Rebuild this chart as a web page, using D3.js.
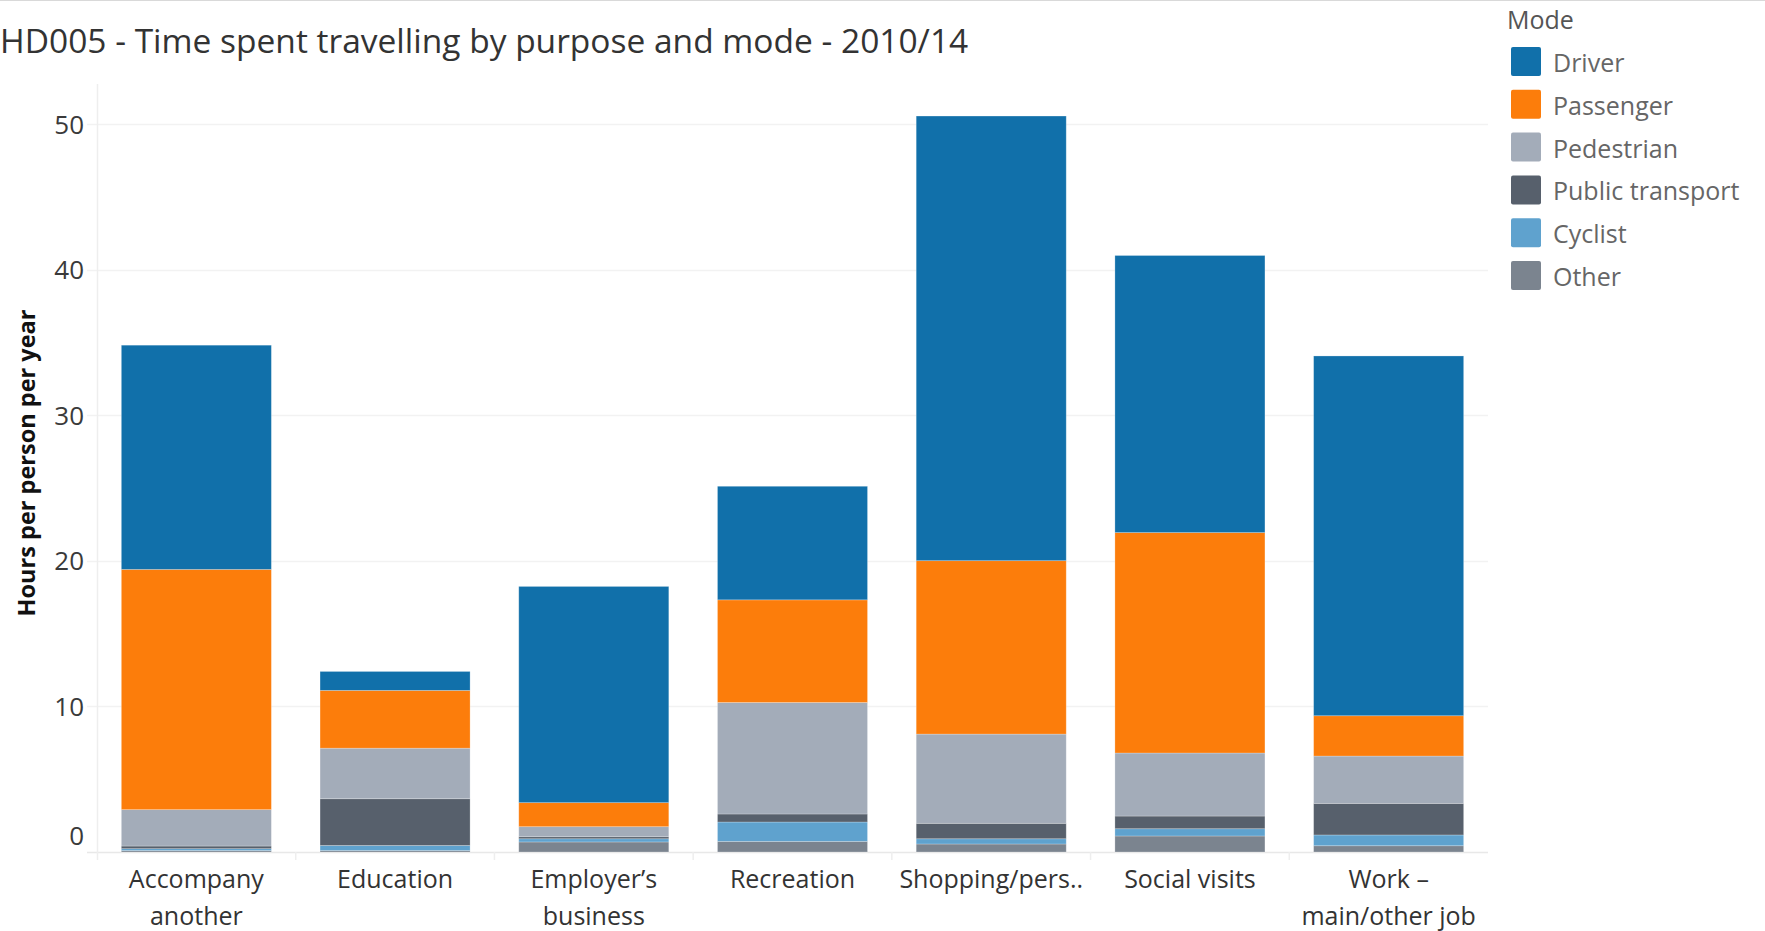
<!DOCTYPE html>
<html>
<head>
<meta charset="utf-8">
<script src="https://cdn.jsdelivr.net/npm/d3@7"></script>
<style>
  body { margin: 0; background: #fff; }
  svg { display: block; font-family: "Open Sans", sans-serif; }
</style>
</head>
<body>
<div id="chart"></div>
<script>
// purposes (x categories), each label split into lines as in the original
var purposes = ["Accompany another", "Education", "Employer's business", "Recreation",
    "Shopping/personal business", "Social visits", "Work - main/other job"];
var purposeLabels = [["Accompany", "another"], ["Education"], ["Employer\u2019s", "business"],
    ["Recreation"], ["Shopping/pers.."], ["Social visits"], ["Work \u2013", "main/other job"]];

var modes = ["Driver", "Passenger", "Pedestrian", "Public transport", "Cyclist", "Other"];
var modeColours = ["#1170aa", "#fc7d0b", "#a3acb9", "#57606c", "#5fa2ce", "#7b848f"];

// hours per person per year, one array per mode
var driver = [15.4, 1.3, 14.85, 7.8, 30.54, 19.03, 24.71];
var passenger = [16.5, 3.97, 1.65, 7.05, 11.91, 15.14, 2.77];
var pedestrian = [2.5, 3.47, 0.69, 7.66, 6.13, 4.33, 3.25];
var publicTransport = [0.18, 3.21, 0.14, 0.55, 1.06, 0.87, 2.17];
var cyclist = [0.13, 0.35, 0.22, 1.33, 0.36, 0.5, 0.74];
var other = [0.1, 0.1, 0.69, 0.73, 0.55, 1.1, 0.43];

var yTicks = [0, 10, 20, 30, 40, 50];

// build rows for d3.stack
var series = [driver, passenger, pedestrian, publicTransport, cyclist, other];
var rows = purposes.map(function (p, i) {
    var r = { purpose: p };
    modes.forEach(function (m, j) { r[m] = series[j][i]; });
    return r;
});

var width = 1765, height = 931;
var plot = { left: 97, right: 1488, top: 84, bottom: 852 };

var svg = d3.select("#chart").append("svg")
    .attr("width", width)
    .attr("height", height);

// thin line across the top
svg.append("line")
    .attr("x1", 0).attr("x2", width)
    .attr("y1", 0.5).attr("y2", 0.5)
    .attr("stroke", "#d9d9d9");

svg.append("text")
    .attr("x", 0)
    .attr("y", 53)
    .attr("font-size", 33.5)
    .attr("fill", "#333")
    .text("HD005 - Time spent travelling by purpose and mode - 2010/14");

var x = d3.scaleBand()
    .domain(purposes)
    .range([plot.left, plot.right])
    .paddingInner(0.245)
    .paddingOuter(0.1225);

var y = d3.scaleLinear()
    .domain([0, 52.75])
    .range([plot.bottom, plot.top]);

var colour = d3.scaleOrdinal().domain(modes).range(modeColours);

// gridlines
svg.append("g")
    .selectAll("line")
    .data(yTicks)
    .enter().append("line")
    .attr("x1", 87).attr("x2", plot.right)
    .attr("y1", function (d) { return Math.round(y(d)) + 0.5; })
    .attr("y2", function (d) { return Math.round(y(d)) + 0.5; })
    .attr("stroke", function (d) { return d === 0 ? "#e8e8e8" : "#f2f2f2"; })
    .attr("stroke-width", 1.5);

// y axis line
svg.append("line")
    .attr("x1", plot.left + 0.5).attr("x2", plot.left + 0.5)
    .attr("y1", plot.top).attr("y2", plot.bottom + 8)
    .attr("stroke", "#eeeeee")
    .attr("stroke-width", 1.5);

// band separators under the baseline
svg.append("g")
    .selectAll("line")
    .data(purposes.slice(1))
    .enter().append("line")
    .attr("x1", function (d) { return x(d) - x.step() * x.paddingInner() / 2; })
    .attr("x2", function (d) { return x(d) - x.step() * x.paddingInner() / 2; })
    .attr("y1", plot.bottom).attr("y2", plot.bottom + 8)
    .attr("stroke", "#eeeeee")
    .attr("stroke-width", 1.5);

// y axis
var yAxis = svg.append("g")
    .attr("transform", "translate(84,0)")
    .call(d3.axisLeft(y).tickValues(yTicks).tickSize(0).tickPadding(0));
yAxis.select(".domain").remove();
yAxis.selectAll("text")
    .attr("font-family", "Open Sans, sans-serif")
    .attr("font-size", 26)
    .attr("fill", "#3a3a3a")
    .attr("dy", function (d) { return d === 0 ? "-0.3em" : "0.35em"; });

svg.append("text")
    .attr("transform", "translate(27,463) rotate(-90)")
    .attr("text-anchor", "middle")
    .attr("dy", "0.35em")
    .attr("font-size", 23.5)
    .attr("font-weight", "bold")
    .attr("fill", "#111")
    .text("Hours per person per year");

// stacked bars: Other at the bottom, Driver at the top
var stack = d3.stack().keys(modes.slice().reverse());
var layers = stack(rows);

svg.append("g")
    .selectAll("g")
    .data(layers)
    .enter().append("g")
    .attr("fill", function (d) { return colour(d.key); })
    .selectAll("rect")
    .data(function (d) { return d; })
    .enter().append("rect")
    .attr("x", function (d) { return x(d.data.purpose); })
    .attr("y", function (d) { return y(d[1]); })
    .attr("width", x.bandwidth())
    .attr("height", function (d) { return y(d[0]) - y(d[1]); })
    .attr("stroke", "#ffffff")
    .attr("stroke-opacity", 0.3)
    .attr("stroke-width", 0.8);

// x labels
var xl = svg.append("g")
    .selectAll("text")
    .data(purposes)
    .enter().append("text")
    .attr("x", function (d) { return x(d) + x.bandwidth() / 2; })
    .attr("y", 888)
    .attr("text-anchor", "middle")
    .attr("font-size", 25)
    .attr("fill", "#333");
xl.selectAll("tspan")
    .data(function (d, i) { return purposeLabels[i]; })
    .enter().append("tspan")
    .attr("x", function () { return d3.select(this.parentNode).attr("x"); })
    .attr("dy", function (d, i) { return i === 0 ? 0 : 37; })
    .text(function (d) { return d; });

// legend
var legend = svg.append("g").attr("transform", "translate(1507,0)");
legend.append("text")
    .attr("x", 0).attr("y", 29)
    .attr("font-size", 25)
    .attr("fill", "#555")
    .text("Mode");
var item = legend.selectAll(".item")
    .data(modes)
    .enter().append("g")
    .attr("class", "item")
    .attr("transform", function (d, i) { return "translate(0," + (47 + i * 42.8) + ")"; });
item.append("rect")
    .attr("x", 4).attr("y", 0)
    .attr("width", 30).attr("height", 29)
    .attr("rx", 2)
    .attr("fill", function (d) { return colour(d); });
item.append("text")
    .attr("x", 46).attr("y", 25)
    .attr("font-size", 25)
    .attr("fill", "#666")
    .text(function (d) { return d; });
</script>
</body>
</html>
